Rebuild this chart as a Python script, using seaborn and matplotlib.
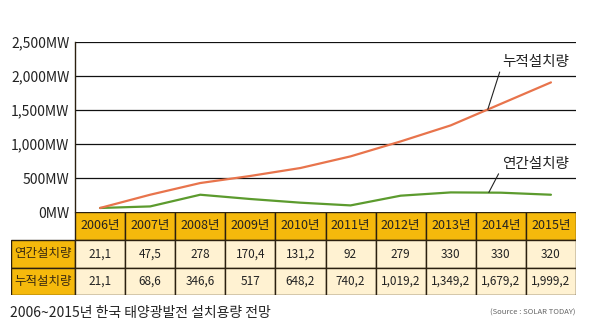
import matplotlib
matplotlib.use("Agg")
import matplotlib.pyplot as plt
from matplotlib.patches import Rectangle
import seaborn as sns
import pandas as pd

sns.set_theme(style="white")
plt.rcParams['font.family'] = ['Noto Sans CJK KR', 'DejaVu Sans']

years = ["2006년", "2007년", "2008년", "2009년", "2010년", "2011년", "2012년", "2013년", "2014년", "2015년"]
row_labels = ["연간설치량", "누적설치량"]
annual_table = ["21,1", "47,5", "278", "170,4", "131,2", "92", "279", "330", "330", "320"]
cumul_table = ["21,1", "68,6", "346,6", "517", "648,2", "740,2", "1,019,2", "1,349,2", "1,679,2", "1,999,2"]
# values as drawn on the chart lines (MW)
annual_line = [59, 82, 254, 191, 137, 97, 240, 288, 284, 254]
cumul_line = [59, 254, 426, 530, 647, 818, 1038, 1274, 1590, 1906]
yticks = [0, 500, 1000, 1500, 2000, 2500]
ytick_labels = ["0MW", "500MW", "1,000MW", "1,500MW", "2,000MW", "2,500MW"]
title = "2006~2015년 한국 태양광발전 설치용량 전망"
source = "(Source : SOLAR TODAY)"

GOLD = "#F5B90C"
PALE = "#FFF2D2"
ORANGE = "#E8744C"
GREEN = "#5C9B2E"
BORDER = "#2b2010"

W, H = 595, 334
fig = plt.figure(figsize=(W / 100, H / 100), dpi=100)
fig.patch.set_facecolor("white")

def fx(px):
    return px / W

def fy(py):
    return 1 - py / H

# ---- line chart ----
ax_l, ax_r, ax_t, ax_b = 75, 576, 42, 212
ax = fig.add_axes([fx(ax_l), fy(ax_b), fx(ax_r - ax_l), (ax_b - ax_t) / H])
df = pd.DataFrame({
    "idx": list(range(len(years))) * 2,
    "value": annual_line + cumul_line,
    "series": [row_labels[0]] * len(years) + [row_labels[1]] * len(years),
})
sns.lineplot(data=df, x="idx", y="value", hue="series",
             palette={row_labels[0]: GREEN, row_labels[1]: ORANGE},
             linewidth=1.6, legend=False, ax=ax)
ax.set_xlim(-0.5, len(years) - 0.5)
ax.set_ylim(0, 2500)
ax.set_yticks(yticks)
ax.set_yticklabels(ytick_labels, fontsize=10, color="#222222")
ax.set_xticks([])
ax.set_xlabel("")
ax.set_ylabel("")
for s in ["top", "right", "bottom"]:
    ax.spines[s].set_visible(False)
ax.spines["left"].set_color(BORDER)
ax.spines["left"].set_linewidth(1.0)
ax.tick_params(axis="y", length=0, pad=4)
for yv in yticks[1:]:
    ax.axhline(yv, color="#111111", lw=0.9, zorder=0)
ax.set_facecolor("white")

# annotations
ax.annotate(row_labels[1], xy=(7.74, 1510), xytext=(8.02, 2210),
            fontsize=10.5, color="#222222", ha="left", va="center",
            arrowprops=dict(arrowstyle="-", color="#222222", lw=0.8,
                            shrinkA=0, shrinkB=0, relpos=(0, 0.25)))
ax.annotate(row_labels[0], xy=(7.76, 288), xytext=(8.02, 705),
            fontsize=10.5, color="#222222", ha="left", va="center",
            arrowprops=dict(arrowstyle="-", color="#222222", lw=0.8,
                            shrinkA=0, shrinkB=0, relpos=(0, 0.25)))

# ---- table ----
t_l, t_r, t_t, t_b = 11, 576, 212, 295
tab = fig.add_axes([fx(t_l), fy(t_b), fx(t_r - t_l), (t_b - t_t) / H])
tab.set_xlim(t_l, t_r)
tab.set_ylim(t_b, t_t)
tab.axis("off")
col_w = (t_r - ax_l) / len(years)
row_tops = [212, 240, 268]
row_h = [28, 28, 27]

# header row
for i, yr in enumerate(years):
    x0 = ax_l + i * col_w
    tab.add_patch(Rectangle((x0, row_tops[0]), col_w, row_h[0], facecolor=GOLD,
                            edgecolor=BORDER, lw=1.0))
    tab.text(x0 + col_w / 2, row_tops[0] + row_h[0] / 2, yr, ha="center", va="center",
             fontsize=9, color="#222222")

rows = [annual_table, cumul_table]
for r, (lab, vals) in enumerate(zip(row_labels, rows)):
    y0 = row_tops[r + 1]
    tab.add_patch(Rectangle((t_l, y0), ax_l - t_l, row_h[r + 1], facecolor=GOLD,
                            edgecolor=BORDER, lw=1.0))
    tab.text((t_l + ax_l) / 2, y0 + row_h[r + 1] / 2, lab, ha="center", va="center",
             fontsize=9, color="#3a2a10")
    for i, v in enumerate(vals):
        x0 = ax_l + i * col_w
        tab.add_patch(Rectangle((x0, y0), col_w, row_h[r + 1], facecolor=PALE,
                                edgecolor=BORDER, lw=1.0))
        tab.text(x0 + col_w / 2, y0 + row_h[r + 1] / 2, v, ha="center", va="center",
                 fontsize=8.5, color="#222222")

# ---- captions ----
fig.text(fx(10), fy(313), title, ha="left", va="center", fontsize=10, color="#222222")
fig.text(fx(576), fy(313), source, ha="right", va="center", fontsize=5.5, color="#666666")

fig.savefig("out.png", dpi=100, facecolor="white")
